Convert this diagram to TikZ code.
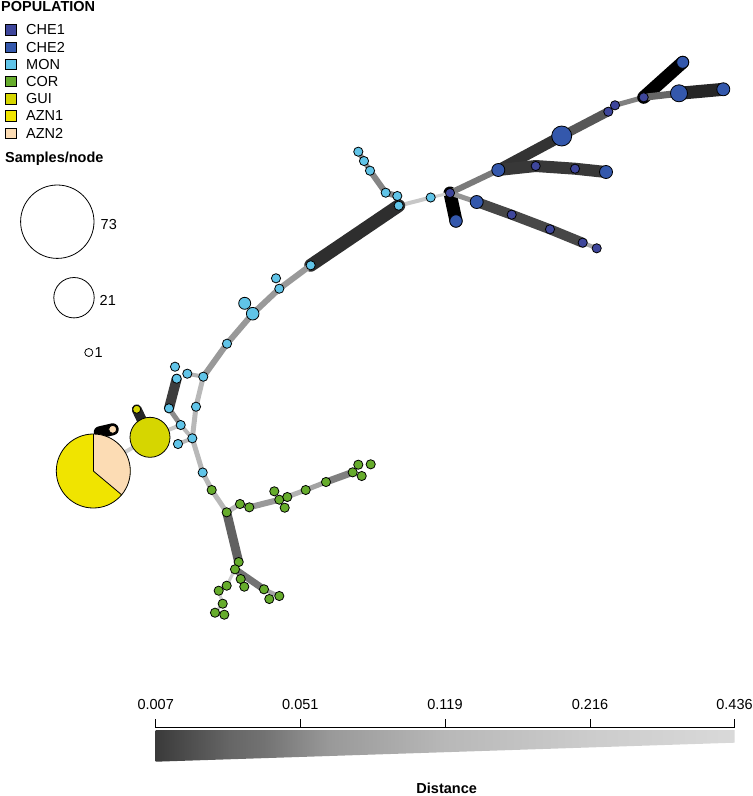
\documentclass[tikz,border=0pt]{standalone}
\usepackage{fontspec}
\setmainfont{Liberation Sans}
\usetikzlibrary{backgrounds}
\definecolor{cCHEa}{RGB}{62,70,155}
\definecolor{cCHEb}{RGB}{52,88,172}
\definecolor{cMON}{RGB}{96,196,232}
\definecolor{cCOR}{RGB}{102,172,44}
\definecolor{cGUI}{RGB}{214,214,0}
\definecolor{cAZNa}{RGB}{240,228,0}
\definecolor{cAZNb}{RGB}{252,220,180}
\definecolor{g0}{RGB}{58,58,58}
\definecolor{g1}{RGB}{72,72,72}
\definecolor{g2}{RGB}{88,88,88}
\definecolor{g3}{RGB}{102,102,102}
\definecolor{g4}{RGB}{114,114,114}
\definecolor{g5}{RGB}{136,136,136}
\definecolor{g6}{RGB}{153,153,153}
\definecolor{g7}{RGB}{184,184,184}
\definecolor{g8}{RGB}{204,204,204}
\definecolor{g9}{RGB}{217,217,217}
\pgfdeclarehorizontalshading{distshade}{100bp}{color(0bp)=(g0); color(25bp)=(g0); color(27bp)=(g1); color(29.4bp)=(g2); color(31.4bp)=(g3); color(34.3bp)=(g4); color(37.5bp)=(g5); color(40bp)=(g6); color(50bp)=(g7); color(62.5bp)=(g8); color(75bp)=(g9); color(100bp)=(g9)}
\tikzset{
  txt/.style={inner sep=0pt, font=\fontsize{14.5}{16}\selectfont},
  btxt/.style={inner sep=0pt, font=\bfseries\fontsize{14.5}{16}\selectfont},
  lbox/.style={rectangle, draw=black, line width=0.8pt, minimum width=11pt, minimum height=10.5pt, inner sep=0pt},
  sc/.style={circle, draw=black, line width=0.8pt, inner sep=0pt},
  nd/.style={circle, draw=black, line width=0.8pt, inner sep=0pt, minimum size=9.2pt},
  che1/.style={nd, fill=cCHEa},
  che2/.style={nd, fill=cCHEb},
  mon/.style={nd, fill=cMON},
  cor/.style={nd, fill=cCOR},
  gui/.style={nd, fill=cGUI},
  ed/.style={line cap=round, line join=round, line width=#1}
}
\begin{document}
\begin{tikzpicture}[x=1pt,y=-1pt]
\useasboundingbox (0,0) rectangle (753,796);

% ---------- legend ----------
\node[btxt, anchor=base west] (poptitle) at (1,11.7) {POPULATION};
\node[lbox, fill=cCHEa] (k1) at (10.8,30) {};   \node[txt, anchor=west] (t1) at (26,30) {CHE1};
\node[lbox, fill=cCHEb] (k2) at (10.8,47.2) {}; \node[txt, anchor=west] (t2) at (26,47.2) {CHE2};
\node[lbox, fill=cMON] (k3) at (10.8,64.4) {};  \node[txt, anchor=west] (t3) at (26,64.4) {MON};
\node[lbox, fill=cCOR] (k4) at (10.8,81.6) {};  \node[txt, anchor=west] (t4) at (26,81.6) {COR};
\node[lbox, fill=cGUI] (k5) at (10.8,98.8) {};  \node[txt, anchor=west] (t5) at (26,98.8) {GUI};
\node[lbox, fill=cAZNa] (k6) at (10.8,116) {};  \node[txt, anchor=west] (t6) at (26,116) {AZN1};
\node[lbox, fill=cAZNb] (k7) at (10.8,133.2) {};\node[txt, anchor=west] (t7) at (26,133.2) {AZN2};

\node[btxt, anchor=base west] (samptitle) at (5,162.3) {Samples/node};
\node[sc, minimum size=73.4pt] (c73) at (57.3,221.7) {};
\node[txt, anchor=west] (l73) at (100.5,224.3) {73};
\node[sc, minimum size=40.4pt] (c21) at (74,297.7) {};
\node[txt, anchor=west] (l21) at (99.5,300) {21};
\node[sc, minimum size=8pt] (c1) at (88.8,352.5) {};
\node[txt, anchor=west] (l1) at (94.5,352.8) {1};

% ---------- CHE nodes ----------
\node[che2, minimum size=12pt] (A1) at (682.7,62.3) {};
\node[che2, minimum size=13pt] (A2) at (723.3,89.3) {};
\node[che2, minimum size=17pt] (A3) at (679,93.3) {};
\node[che1] (A4) at (643.7,97.3) {};
\node[che1] (A5) at (615,105.3) {};
\node[che1] (A6) at (608.3,111.7) {};
\node[che2, minimum size=20pt] (A7) at (561.7,136) {};
\node[che2, minimum size=13pt] (A8) at (498.3,170) {};
\node[che1] (A9) at (535.7,166) {};
\node[che1] (A10) at (575,168.7) {};
\node[che2, minimum size=13pt] (A11) at (606,172) {};
\node[che1] (A12) at (450,193) {};
\node[che2, minimum size=12.5pt] (A13) at (456,221) {};
\node[che2, minimum size=13pt] (A14) at (476.7,202) {};
\node[che1] (A15) at (511.7,214.7) {};
\node[che1] (A16) at (550,229.3) {};
\node[che1] (A17) at (582.7,242.7) {};
\node[che1] (A18) at (596.7,248.3) {};

% ---------- MON nodes ----------
\node[mon] (M1) at (358.3,151.7) {};
\node[mon] (M2) at (364,161) {};
\node[mon] (M3) at (370,170.7) {};
\node[mon] (M4) at (385.7,192.7) {};
\node[mon] (M5) at (397.3,196) {};
\node[mon] (M6) at (398.7,205.7) {};
\node[mon] (M7) at (430.7,197.5) {};
\node[mon] (M8) at (310.7,265.3) {};
\node[mon] (M9) at (276,278.3) {};
\node[mon] (M10) at (279.3,288.7) {};
\node[mon, minimum size=12pt] (M11) at (244.7,303.3) {};
\node[mon, minimum size=12.6pt] (M12) at (252.7,313.7) {};
\node[mon] (M13) at (227,343.7) {};
\node[mon] (M14) at (175,366.7) {};
\node[mon] (M15) at (187.3,373.7) {};
\node[mon] (M16) at (176.7,378.7) {};
\node[mon] (M17) at (203.3,376.7) {};
\node[mon] (M18) at (169,408.3) {};
\node[mon] (M19) at (196,406.7) {};
\node[mon] (M20) at (180.7,425) {};
\node[mon] (M21) at (192.3,438.3) {};
\node[mon] (M22) at (178,444) {};
\node[mon] (M23) at (202.7,472.5) {};

% ---------- COR nodes ----------
\node[cor] (G1) at (211.7,490) {};
\node[cor] (G2) at (226.7,512.3) {};
\node[cor] (G3) at (240,504) {};
\node[cor] (G4) at (249.3,507.3) {};
\node[cor] (G5) at (274.3,491.3) {};
\node[cor] (G6) at (279.3,499.7) {};
\node[cor] (G7) at (287.3,497) {};
\node[cor] (G8) at (284.7,507.7) {};
\node[cor] (G9) at (305.7,490) {};
\node[cor] (G10) at (326,482) {};
\node[cor] (G13) at (352.7,472.3) {};
\node[cor] (G14) at (361.7,476) {};
\node[cor] (G11) at (358.3,464.7) {};
\node[cor] (G12) at (370.7,464.3) {};
\node[cor] (G15) at (238.7,562) {};
\node[cor] (G16) at (235,569.3) {};
\node[cor] (G17) at (240.7,579) {};
\node[cor] (G18) at (244.3,586.7) {};
\node[cor] (G19) at (226.7,585.7) {};
\node[cor] (G20) at (218.7,590.7) {};
\node[cor] (G21) at (222.7,603.7) {};
\node[cor] (G22) at (215,612.7) {};
\node[cor] (G23) at (224.3,614.7) {};
\node[cor] (G24) at (264,589.3) {};
\node[cor] (G25) at (269.3,599) {};
\node[cor] (G26) at (279.3,596) {};

% ---------- GUI / AZN ----------
\node[gui, minimum size=40pt] (Gb) at (150,437.3) {};
\node[gui, minimum size=8pt] (Gs) at (136.7,409.3) {};
\node[nd, minimum size=8pt, fill=cAZNb] (P) at (112.7,429.3) {};
\node[circle, inner sep=0pt, minimum size=74pt, fill=cAZNa] (pie) at (93.3,471) {};
\fill[cAZNb] (pie.center) -- ++(-90:37) arc[start angle=-90, end angle=40, radius=37] -- cycle;
\draw[line width=0.8pt] (pie.center) -- ++(-90:37);
\draw[line width=0.8pt] (pie.center) -- ++(40:37);
\draw[line width=0.8pt] (pie.center) circle[radius=37];

% ---------- edges ----------
\begin{pgfonlayer}{background}
% CHE
\draw[ed=13pt, draw=black] (A12.center) -- (A13.center);
\draw[ed=6pt, draw=black!52] (A12.center) -- (A8.center);
\draw[ed=11pt, draw=black!80] (A8.center) -- (A7.center);
\draw[ed=9pt, draw=black!66] (A7.center) -- (A6.center);
\draw[ed=5pt, draw=black!50] (A6.center) -- (A5.center) -- (A4.center);
\draw[ed=13pt, draw=black] (A4.center) -- (A1.center);
\draw[ed=7pt, draw=black!60] (A4.center) -- (A3.center);
\draw[ed=13pt, draw=black!85] (A3.center) -- (A2.center);
\draw[ed=12pt, draw=black!78] (A8.center) -- (A9.center) -- (A10.center) -- (A11.center);
\draw[ed=5pt, draw=black!42] (A12.center) -- (A14.center);
\draw[ed=10pt, draw=black!72] (A14.center) -- (A15.center) -- (A16.center) -- (A17.center);
\draw[ed=4pt, draw=black!35] (A17.center) -- (A18.center);
\draw[ed=3pt, draw=black!18] (M7.center) -- (A12.center);
% MON
\draw[ed=5pt, draw=black!45] (M1.center) -- (M2.center) -- (M3.center);
\draw[ed=6pt, draw=black!48] (M3.center) -- (M4.center) -- (M5.center) -- (M6.center);
\draw[ed=4pt, draw=black!22] (M6.center) -- (M7.center);
\draw[ed=13pt, draw=black!82] (M6.center) -- (M8.center);
\draw[ed=6pt, draw=black!40] (M8.center) -- (M10.center) -- (M12.center) -- (M13.center) -- (M17.center);
\draw[ed=4pt, draw=black!30] (M17.center) -- (M15.center);
\draw[ed=10pt, draw=black!76] (M16.center) -- (M18.center);
\draw[ed=5pt, draw=black!45] (M18.center) -- (M20.center);
\draw[ed=5pt, draw=black!28] (M17.center) -- (M19.center) -- (M21.center);
\draw[ed=4pt, draw=black!28] (M20.center) -- (M21.center);
\draw[ed=4pt, draw=black!28] (M21.center) -- (M22.center);
\draw[ed=5pt, draw=black!28] (M21.center) -- (M23.center);
\draw[ed=4pt, draw=black!22] (Gb.center) -- (M20.center);
% GUI / AZN
\draw[ed=4pt, draw=black!20] (pie.center) -- (Gb.center);
\draw[ed=12pt, draw=black] (P.center) -- ++(-13,3);
\draw[ed=10pt, draw=black!85] (Gs.center) -- (Gb.center);
% COR
\draw[ed=5pt, draw=black!28] (M23.center) -- (G1.center) -- (G2.center);
\draw[ed=5pt, draw=black!28] (G2.center) -- (G3.center) -- (G4.center);
\draw[ed=6pt, draw=black!40] (G4.center) -- (G6.center);
\draw[ed=5pt, draw=black!30] (G6.center) -- (G9.center);
\draw[ed=5pt, draw=black!36] (G9.center) -- (G10.center);
\draw[ed=7pt, draw=black!50] (G10.center) -- (G13.center);
\draw[ed=9pt, draw=black!62] (G2.center) -- (G15.center);
\draw[ed=7pt, draw=black!55] (G16.center) -- (G24.center);
\draw[ed=4pt, draw=black!35] (G24.center) -- (G26.center);
\draw[ed=3pt, draw=black!20] (G16.center) -- (G19.center) -- (G20.center) -- (G21.center) -- (G22.center);
\end{pgfonlayer}

% ---------- distance scale ----------
\shade[shading=distshade] (155.7,730) -- (734.5,730) -- (734.5,742.7) -- (155.7,761.7) -- cycle;
\draw[line width=1pt] (155.7,727.3) -- (734.5,727.3);
\foreach \x in {155.7,300.3,445,590,734.5} \draw[line width=1pt] (\x,719.3) -- (\x,727.8);
\node[txt, anchor=base] (s1) at (155.7,709.3) {0.007};
\node[txt, anchor=base] (s2) at (300.3,709.3) {0.051};
\node[txt, anchor=base] (s3) at (445,709.3) {0.119};
\node[txt, anchor=base] (s4) at (590,709.3) {0.216};
\node[txt, anchor=base] (s5) at (734.5,709.3) {0.436};
\node[btxt, anchor=base] (dist) at (446.7,793) {Distance};
\end{tikzpicture}
\end{document}
